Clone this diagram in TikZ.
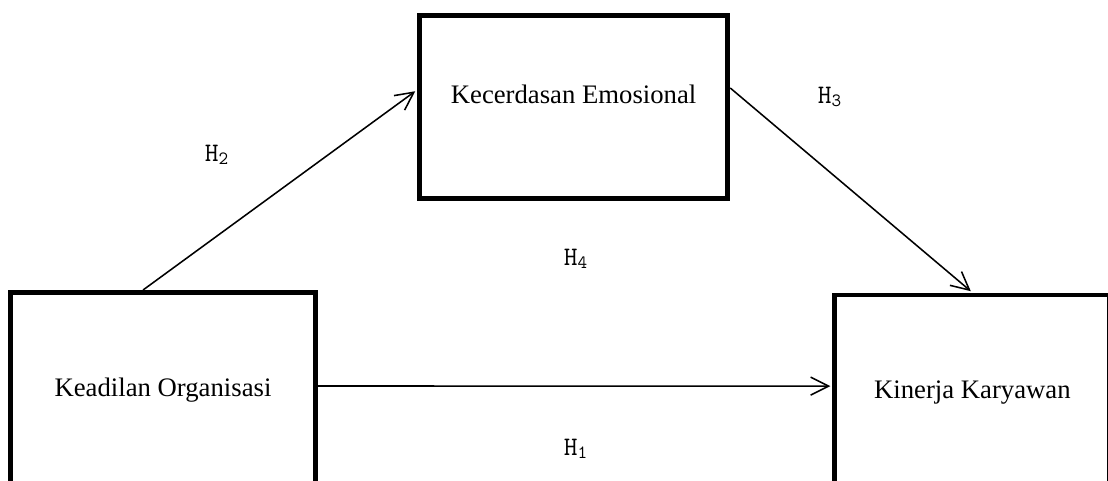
\documentclass[tikz,border=0pt]{standalone}
\usepackage{fontspec}
\setmainfont{Liberation Serif}
\usepackage{tikz}
\usetikzlibrary{arrows.meta}
\usetikzlibrary{calc}
\definecolor{boxcolor}{HTML}{000000}

\begin{document}
\begin{tikzpicture}[scale=1,
    varbox/.style={draw=boxcolor,line width=3.5pt,rectangle,inner sep=0pt,
        font=\fontsize{19}{23}\selectfont},
    hyp/.style={font=\ttfamily\fontsize{19}{22}\selectfont},
    path/.style={line width=1.1pt,-{Straight Barb[length=0.45cm,width=0.45cm]}}]
\useasboundingbox (0,0) rectangle (27.7,12);

\node[varbox,minimum width=7.625cm,minimum height=4.875cm] (keadilan) at (4.075,2.25) {Keadilan Organisasi};
\node[varbox,minimum width=7.71cm,minimum height=4.575cm,text depth=0.65cm] (kecerdasan) at (14.34,9.325) {Kecerdasan Emosional};
\node[varbox,minimum width=6.875cm,minimum height=4.875cm] (kinerja) at (24.31,2.1875) {Kinerja Karyawan};

%% hubungan antar variabel
\draw[path,shorten >=1.5pt] ([xshift=-0.5cm]keadilan.north) -- ([yshift=0.425cm]kecerdasan.west);
\draw[path,shorten >=1.5pt] ([yshift=0.475cm]kecerdasan.east) -- (kinerja.north);
\draw[path,shorten >=1.5pt] ([yshift=0.1cm]keadilan.east) -- ([yshift=0.16cm]kinerja.west);

\node[hyp] (h2) at (5.425,8.125) {H\textsubscript{2}};
\node[hyp] (h3) at (20.75,9.575) {H\textsubscript{3}};
\node[hyp] (h4) at (14.4,5.525) {H\textsubscript{4}};
\node[hyp] (h1) at (14.4,0.775) {H\textsubscript{1}};
\end{tikzpicture}
\end{document}
